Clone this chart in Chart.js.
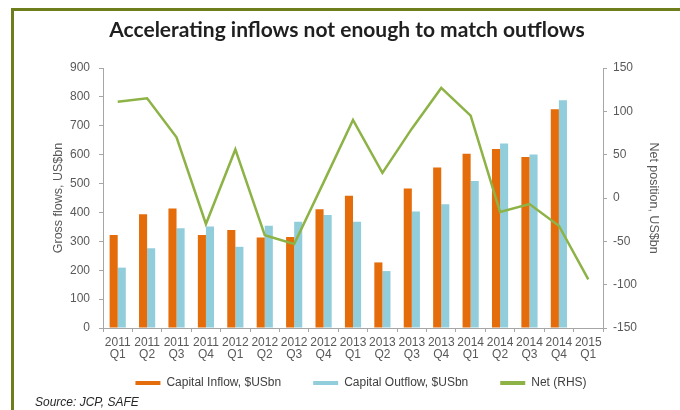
<!DOCTYPE html>
<html>
<head>
<meta charset="utf-8">
<script src="https://cdn.jsdelivr.net/npm/chart.js@4.4.1/dist/chart.umd.min.js"></script>
<style>
  html, body { margin: 0; padding: 0; background: #ffffff; }
  #wrap { position: relative; width: 680px; height: 410px; overflow: hidden; background: #fff; }
  #frame { position: absolute; left: 11px; top: 8px; width: 680px; height: 420px;
           border-left: 3px solid #6e7e1c; border-top: 3px solid #6e7e1c; box-sizing: border-box; }
  #c { position: absolute; left: 0; top: 0; }
  #src { position: absolute; left: 35px; top: 395px; font: italic 12px "Liberation Sans", Arial, sans-serif; color: #262626; }
</style>
</head>
<body>
<div id="wrap">
  <div id="frame"></div>
  <canvas id="c" width="680" height="410"></canvas>
  <div id="src">Source: JCP, SAFE</div>
</div>
<script>
const categories = [
  ["2011","Q1"],["2011","Q2"],["2011","Q3"],["2011","Q4"],
  ["2012","Q1"],["2012","Q2"],["2012","Q3"],["2012","Q4"],
  ["2013","Q1"],["2013","Q2"],["2013","Q3"],["2013","Q4"],
  ["2014","Q1"],["2014","Q2"],["2014","Q3"],["2014","Q4"],
  ["2015","Q1"]
];
const capitalInflow  = [322, 394, 414, 322, 339, 313, 315, 411, 458, 227, 483, 556, 603, 620, 592, 757, null];
const capitalOutflow = [209, 276, 345, 351, 281, 354, 368, 391, 368, 197, 403, 428, 509, 639, 601, 788, null];
const netPosition    = [111, 115, 70, -30, 56, -43, -53, 18, 90, 29, 80, 127, 95, -16, -7, -32, -94];

const titleText = "Accelerating inflows not enough to match outflows";
const seriesNames = ["Capital Inflow, $USbn", "Capital Outflow, $USbn", "Net (RHS)"];
const leftTitle = "Gross flows, US$bn";
const rightTitle = "Net position, US$bn";

const tickFont = { family: "'Liberation Sans', Arial, sans-serif", size: 12 };
const tickColor = "#595959";
const axisColor = "#a6a6a6";

const legendFix = {
  id: 'legendFix',
  afterInit(chart) {
    const lg = chart.legend;
    if (!lg) return;
    const orig = lg.fit.bind(lg);
    lg.fit = function () { orig(); this.height = 48; };
  },
  afterLayout(chart) {
    const lg = chart.legend;
    if (!lg) return;
    const dy = 345 - lg.top;
    lg.top += dy; lg.bottom += dy;
    lg.left += 14; lg.right += 14;
  }
};

new Chart(document.getElementById('c'), {
  data: {
    labels: categories,
    datasets: [
      { type: 'bar', label: seriesNames[0], data: capitalInflow, backgroundColor: '#e46c0a',
        yAxisID: 'y', order: 1, categoryPercentage: 0.55, barPercentage: 1.0 },
      { type: 'bar', label: seriesNames[1], data: capitalOutflow, backgroundColor: '#92cddc',
        yAxisID: 'y', order: 1, categoryPercentage: 0.55, barPercentage: 1.0 },
      { type: 'line', label: seriesNames[2], data: netPosition, borderColor: '#8db346',
        backgroundColor: '#8db346', borderWidth: 2.5, pointRadius: 0, tension: 0,
        yAxisID: 'y1', order: 0 }
    ]
  },
  plugins: [legendFix],
  options: {
    responsive: false,
    animation: false,
    devicePixelRatio: 1,
    layout: { padding: { left: 14, right: 0, top: 10, bottom: 0 } },
    plugins: {
      tooltip: { enabled: false },
      title: {
        display: true, text: titleText, color: '#1f1f1f',
        font: { family: "Lato, 'Open Sans', sans-serif", size: 21, weight: 'bold', lineHeight: 1.2 },
        padding: { top: 7.4, bottom: 25.4 }
      },
      legend: {
        position: 'bottom',
        labels: {
          boxWidth: 25, boxHeight: 4, padding: 32,
          color: '#404040',
          font: { family: "'Liberation Sans', Arial, sans-serif", size: 12 },
          sort: (a, b) => a.datasetIndex - b.datasetIndex,
          generateLabels(chart) {
            const items = Chart.defaults.plugins.legend.labels.generateLabels(chart);
            items.forEach(it => { it.lineWidth = 0; });
            return items;
          }
        }
      }
    },
    scales: {
      x: {
        offset: true,
        grid: { display: true, drawOnChartArea: false, drawTicks: true, tickLength: 4, color: axisColor, offset: true },
        border: { display: true, color: axisColor },
        ticks: { color: tickColor, font: { ...tickFont, lineHeight: 1.0 }, autoSkip: false, maxRotation: 0, minRotation: 0, padding: 5 },
        afterFit(s) { s.height = 34; }
      },
      y: {
        position: 'left', min: 0, max: 900,
        grid: { display: true, drawOnChartArea: false, drawTicks: true, tickLength: 4, color: axisColor },
        border: { display: true, color: axisColor },
        ticks: { stepSize: 100, color: tickColor, font: tickFont, padding: 9 },
        title: { display: true, text: leftTitle, color: tickColor,
                 font: { ...tickFont, size: 12.5, lineHeight: 1.2 }, padding: { top: 37.5, bottom: 0 } },
        afterFit(s) { s.width = 89; }
      },
      y1: {
        position: 'right', min: -150, max: 150,
        grid: { display: true, drawOnChartArea: false, drawTicks: true, tickLength: 4, color: axisColor },
        border: { display: true, color: axisColor },
        ticks: { stepSize: 50, color: tickColor, font: tickFont, padding: 6 },
        title: { display: true, text: rightTitle, color: tickColor,
                 font: { ...tickFont, size: 12.5, lineHeight: 1.2 }, padding: { top: 19, bottom: 0 } },
        afterFit(s) { s.width = 77; }
      }
    }
  }
});
</script>
</body>
</html>
